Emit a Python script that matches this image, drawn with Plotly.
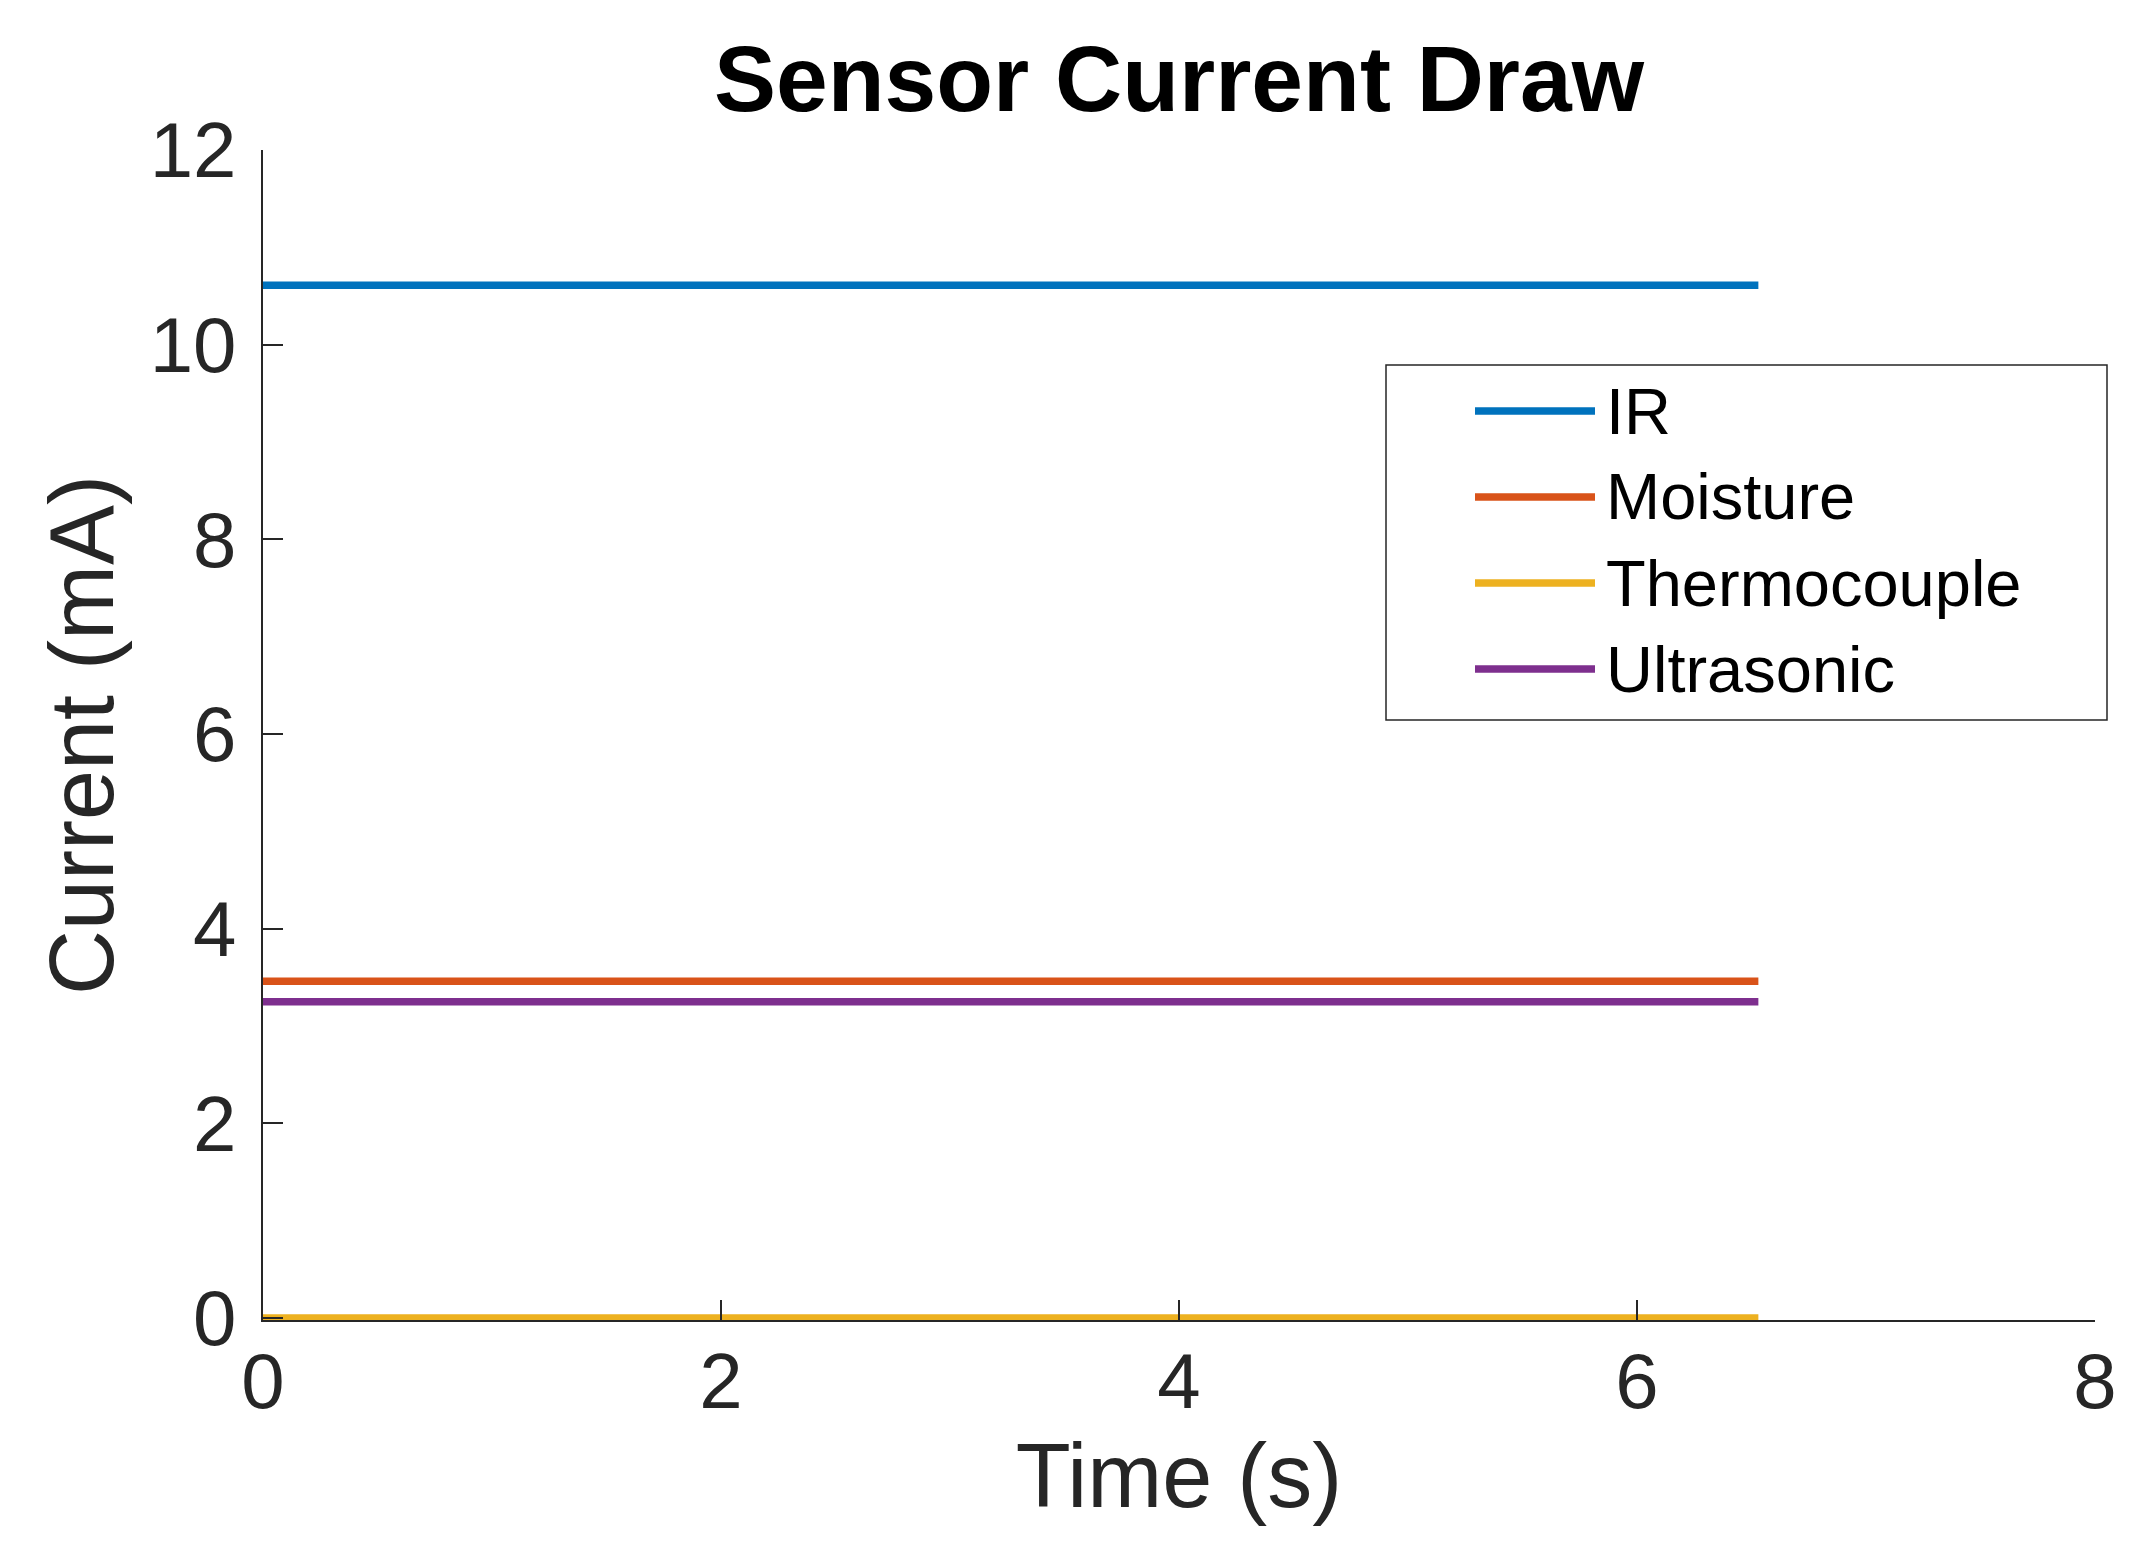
import plotly.graph_objects as go

# ---- data ----
time_s = [0.0, 6.53]
series_names = ["IR", "Moisture", "Thermocouple", "Ultrasonic"]
ir_ma = [10.61, 10.61]
moisture_ma = [3.46, 3.46]
thermocouple_ma = [0.0, 0.0]
ultrasonic_ma = [3.25, 3.25]
x_ticks = [0, 2, 4, 6, 8]
y_ticks = [0, 2, 4, 6, 8, 10, 12]

colors = ["#0072BD", "#D95319", "#EDB120", "#7E2F8E"]
values = [ir_ma, moisture_ma, thermocouple_ma, ultrasonic_ma]

W, H = 2141, 1546
OFF = 8  # page body margin in the browser
L, R, T, B = 263 - OFF, 54, 150 - OFF, 234
FONT = "Liberation Sans, Arial, Helvetica, sans-serif"
AX = "#262626"

fig = go.Figure()
for name, col, v in zip(series_names, colors, values):
    fig.add_trace(go.Scatter(x=time_s, y=v, mode="lines", name=name,
                             line=dict(color=col, width=7.5), showlegend=False))

pw, ph = W - L - R, H - T - B
def px_x(p):  # page pixel -> paper
    return (p - OFF - L) / pw
def px_y(p):
    return (H - B - (p - OFF)) / ph

# custom legend (MATLAB style, long sample lines)
box = dict(x0=1386, x1=2107, y0=365, y1=720)
fig.add_shape(type="rect", xref="paper", yref="paper",
              x0=px_x(box["x0"]), x1=px_x(box["x1"]),
              y0=px_y(box["y1"]), y1=px_y(box["y0"]),
              line=dict(color=AX, width=1.5), fillcolor="white", layer="above")
first_y, step = 411, 86
for i, (name, col) in enumerate(zip(series_names, colors)):
    yc = px_y(first_y + i * step)
    fig.add_shape(type="line", xref="paper", yref="paper",
                  x0=px_x(1475), x1=px_x(1595), y0=yc, y1=yc,
                  line=dict(color=col, width=7.5), layer="above")
    fig.add_annotation(text=name, xref="paper", yref="paper",
                       x=px_x(1604), y=yc, xanchor="left", yanchor="middle",
                       showarrow=False, font=dict(family=FONT, size=65, color="black"))

fig.update_layout(
    width=W, height=H,
    margin=dict(l=L, r=R, t=T, b=B, autoexpand=False),
    paper_bgcolor="white", plot_bgcolor="white",
    font=dict(family=FONT, color=AX),
    title=dict(text="<b>Sensor Current Draw</b>", x=0.5, xref="paper",
               y=1 - (78 - OFF) / H, yref="container", xanchor="center", yanchor="middle",
               font=dict(family=FONT, size=93, color="black")),
)
fig.update_xaxes(range=[0, 8], tickvals=x_ticks, ticktext=[str(t) for t in x_ticks],
                 showgrid=False, zeroline=False, showline=True, linecolor=AX, linewidth=2,
                 ticks="inside", ticklen=20, tickwidth=2, tickcolor=AX,
                 tickfont=dict(family=FONT, size=78, color=AX),
                 title=dict(text="Time (s)", font=dict(family=FONT, size=90, color=AX), standoff=20),
                 automargin=False)
fig.update_yaxes(range=[-0.02, 12], tickvals=y_ticks, ticktext=[str(t) for t in y_ticks],
                 showgrid=False, zeroline=False, showline=True, linecolor=AX, linewidth=2,
                 ticks="inside", ticklen=20, tickwidth=2, tickcolor=AX,
                 tickfont=dict(family=FONT, size=78, color=AX),
                 title=dict(text="Current (mA)", font=dict(family=FONT, size=90, color=AX), standoff=6),
                 ticklabelstandoff=9,
                 automargin=False)
try:
    fig.update_xaxes(ticklabelstandoff=-8)
except Exception:
    pass

fig.write_html("out.html")
